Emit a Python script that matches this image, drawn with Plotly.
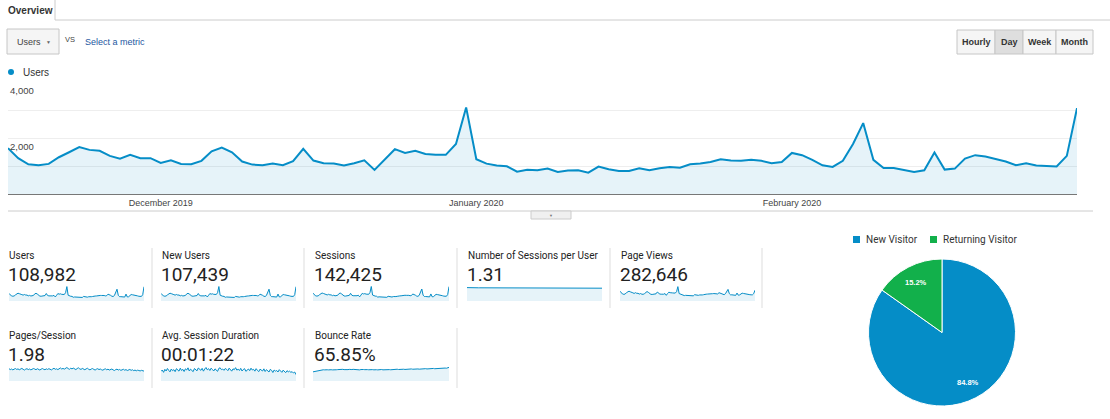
import math
import pandas as pd
import plotly.graph_objects as go

W, H = 1110, 419
BLUE = '#058DC7'
GREEN = '#12B04B'
FILL = 'rgba(5,141,199,0.1)'
UI_FONT = 'Liberation Sans, Arial, sans-serif'
CARD_FONT = 'Roboto, Arial, sans-serif'

# daily data, 16 Nov 2019 - 29 Feb 2020
dates = pd.date_range('2019-11-16', '2020-02-29', freq='D')
month_ticks = ['2019-12-01', '2020-01-01', '2020-02-01']
month_labels = ['December 2019', 'January 2020', 'February 2020']

users = [1650, 1290, 1070, 1040, 1085, 1325, 1505, 1690, 1590, 1555,
         1375, 1275, 1410, 1290, 1290, 1120, 1215, 1085, 1070, 1195,
         1540, 1675, 1505, 1170, 1060, 1035, 1095, 1035, 1180, 1625,
         1205, 1110, 1095, 1025, 1110, 1215, 870, 1230, 1615, 1480,
         1555, 1445, 1410, 1410, 1805, 3120, 1255, 1095, 1025, 1000,
         805, 870, 855, 915, 795, 845, 855, 770, 990, 890,
         830, 830, 930, 855, 930, 975, 950, 1070, 1095, 1155,
         1255, 1205, 1195, 1230, 1195, 1110, 1155, 1480, 1400, 1230,
         1035, 975, 1195, 1805, 2555, 1230, 940, 940, 880, 795,
         855, 1495, 880, 915, 1275, 1400, 1350, 1255, 1170, 1035,
         1110, 1025, 1000, 990, 1375, 3095]

new_users = [1630, 1270, 1055, 1025, 1070, 1305, 1485, 1665, 1570, 1535,
             1355, 1255, 1390, 1270, 1275, 1105, 1200, 1070, 1055, 1180,
             1520, 1650, 1485, 1155, 1045, 1020, 1080, 1020, 1165, 1600,
             1190, 1095, 1080, 1010, 1095, 1200, 860, 1215, 1590, 1460,
             1535, 1425, 1390, 1390, 1780, 3085, 1235, 1080, 1010, 985,
             795, 860, 845, 905, 785, 835, 845, 760, 975, 880,
             820, 820, 915, 845, 920, 960, 940, 1055, 1080, 1140,
             1235, 1190, 1180, 1215, 1180, 1095, 1140, 1460, 1380, 1215,
             1020, 960, 1180, 1780, 2520, 1215, 925, 930, 870, 785,
             845, 1475, 870, 905, 1260, 1380, 1330, 1240, 1155, 1020,
             1095, 1010, 985, 975, 1355, 3060]

sessions = [2180, 1700, 1410, 1370, 1430, 1740, 1980, 2210, 2090, 2040,
            1810, 1680, 1850, 1700, 1700, 1480, 1600, 1430, 1410, 1570,
            2020, 2200, 1980, 1540, 1400, 1360, 1440, 1360, 1550, 2130,
            1580, 1460, 1440, 1350, 1460, 1600, 1150, 1620, 2120, 1950,
            2040, 1900, 1850, 1850, 2370, 4010, 1650, 1440, 1350, 1320,
            1070, 1150, 1130, 1210, 1050, 1110, 1130, 1020, 1300, 1180,
            1100, 1100, 1230, 1130, 1230, 1290, 1260, 1410, 1440, 1520,
            1650, 1590, 1570, 1620, 1570, 1460, 1520, 1940, 1840, 1620,
            1370, 1290, 1570, 2360, 3320, 1620, 1240, 1240, 1160, 1050,
            1130, 1950, 1160, 1210, 1680, 1840, 1780, 1650, 1540, 1370,
            1460, 1350, 1320, 1310, 1800, 3990]

sessions_per_user = [1.34, 1.33, 1.32, 1.32, 1.32, 1.32, 1.32, 1.32, 1.32, 1.32,
                     1.32, 1.32, 1.32, 1.32, 1.32, 1.32, 1.32, 1.32, 1.32, 1.31,
                     1.31, 1.31, 1.32, 1.32, 1.32, 1.31, 1.31, 1.31, 1.31, 1.31,
                     1.31, 1.32, 1.31, 1.31, 1.31, 1.31, 1.31, 1.31, 1.31, 1.31,
                     1.31, 1.31, 1.31, 1.31, 1.31, 1.29, 1.31, 1.31, 1.31, 1.31,
                     1.31, 1.31, 1.31, 1.31, 1.31, 1.31, 1.31, 1.31, 1.31, 1.31,
                     1.31, 1.31, 1.31, 1.31, 1.31, 1.31, 1.30, 1.30, 1.30, 1.30,
                     1.30, 1.30, 1.30, 1.30, 1.30, 1.30, 1.30, 1.30, 1.30, 1.30,
                     1.30, 1.30, 1.30, 1.30, 1.29, 1.30, 1.30, 1.30, 1.30, 1.30,
                     1.30, 1.30, 1.30, 1.29, 1.29, 1.29, 1.29, 1.29, 1.29, 1.29,
                     1.29, 1.29, 1.29, 1.29, 1.29, 1.28]

page_views = [3900, 3200, 2750, 2650, 2750, 3300, 3600, 3900, 3650, 3550,
              3250, 3000, 3300, 3050, 3050, 2750, 2950, 2700, 2650, 2900,
              3500, 3750, 3450, 2850, 2650, 2600, 2750, 2600, 2850, 3550,
              2950, 2750, 2700, 2550, 2700, 2950, 2250, 2950, 3500, 3300,
              3400, 3200, 3150, 3150, 3700, 5700, 2950, 2700, 2550, 2500,
              2150, 2250, 2250, 2350, 2100, 2200, 2250, 2050, 2500, 2350,
              2250, 2250, 2400, 2300, 2400, 2500, 2450, 2700, 2750, 2850,
              3000, 2900, 2900, 2950, 2900, 2750, 2800, 3300, 3150, 2900,
              2600, 2500, 2900, 3700, 4600, 2950, 2450, 2450, 2350, 2150,
              2250, 3150, 2300, 2400, 2900, 3100, 3000, 2850, 2700, 2500,
              2650, 2500, 2450, 2450, 2950, 4300]

pages_per_session = [2.02, 1.96, 2.00, 1.94, 1.99, 2.03, 1.97, 2.01, 1.95, 1.99,
                     2.04, 1.98, 1.93, 1.99, 2.02, 1.96, 2.00, 1.94, 1.98, 2.03,
                     2.00, 1.95, 2.02, 1.97, 1.93, 1.99, 2.03, 1.98, 1.95, 2.01,
                     1.97, 2.02, 1.99, 1.94, 2.00, 2.05, 1.98, 2.01, 1.96, 2.03,
                     2.07, 2.00, 2.04, 1.99, 2.02, 2.10, 2.03, 1.98, 2.05, 2.01,
                     2.06, 2.00, 1.96, 2.03, 2.08, 2.01, 1.97, 2.04, 2.00, 1.95,
                     2.01, 2.05, 1.98, 1.94, 2.00, 2.03, 1.97, 1.93, 1.99, 2.02,
                     1.96, 2.00, 1.95, 1.92, 1.98, 2.01, 1.95, 1.99, 1.93, 1.97,
                     2.00, 1.94, 1.90, 1.96, 1.99, 1.93, 1.97, 1.91, 1.95, 1.98,
                     1.92, 1.96, 1.90, 1.94, 1.97, 1.91, 1.95, 1.89, 1.93, 1.88,
                     1.92, 1.90, 1.87, 1.91, 1.89, 1.86]

# seconds
avg_session_duration = [78, 86, 72, 90, 80, 95, 84, 75, 92, 82,
                        88, 76, 94, 85, 79, 97, 83, 90, 77, 93,
                        86, 99, 80, 91, 84, 76, 95, 88, 81, 98,
                        90, 84, 96, 79, 92, 101, 87, 94, 83, 97,
                        89, 80, 93, 86, 78, 96, 99, 88, 92, 84,
                        95, 90, 82, 97, 86, 79, 93, 88, 100, 85,
                        91, 83, 96, 80, 89, 94, 78, 87, 92, 82,
                        97, 86, 90, 79, 94, 84, 76, 91, 85, 80,
                        93, 77, 88, 82, 74, 90, 84, 71, 86, 79,
                        83, 74, 88, 80, 72, 85, 77, 70, 82, 75,
                        79, 72, 76, 68, 74, 58]

bounce_rate = [0.615, 0.620, 0.628, 0.635, 0.640, 0.645, 0.648, 0.650, 0.652, 0.650,
               0.655, 0.652, 0.650, 0.656, 0.653, 0.650, 0.655, 0.657, 0.652, 0.655,
               0.658, 0.654, 0.656, 0.660, 0.655, 0.652, 0.657, 0.655, 0.659, 0.654,
               0.656, 0.660, 0.657, 0.653, 0.658, 0.655, 0.650, 0.656, 0.660, 0.657,
               0.654, 0.658, 0.655, 0.652, 0.656, 0.662, 0.655, 0.651, 0.656, 0.653,
               0.650, 0.655, 0.652, 0.657, 0.651, 0.654, 0.656, 0.652, 0.658, 0.655,
               0.652, 0.656, 0.660, 0.655, 0.658, 0.662, 0.657, 0.660, 0.663, 0.659,
               0.662, 0.658, 0.661, 0.665, 0.660, 0.663, 0.667, 0.662, 0.665, 0.668,
               0.664, 0.667, 0.663, 0.666, 0.670, 0.665, 0.668, 0.672, 0.667, 0.670,
               0.674, 0.669, 0.672, 0.676, 0.671, 0.674, 0.678, 0.673, 0.676, 0.680,
               0.676, 0.679, 0.683, 0.680, 0.684, 0.695]

card_labels = ['Users', 'New Users', 'Sessions', 'Number of Sessions per User', 'Page Views',
               'Pages/Session', 'Avg. Session Duration', 'Bounce Rate']
card_values = ['108,982', '107,439', '142,425', '1.31', '282,646',
               '1.98', '00:01:22', '65.85%']
card_series = [users, new_users, sessions, sessions_per_user, page_views,
               pages_per_session, avg_session_duration, bounce_rate]
card_yrange = [[0, 3250], [0, 3200], [0, 4150], [0, 1.5], [0, 5950],
               [1.2, 2.2], [20, 110], [0.45, 0.72]]

visitor_types = ['New Visitor', 'Returning Visitor']
visitor_share = [84.8, 15.2]
intervals = ['Hourly', 'Day', 'Week', 'Month']

for s in card_series:
    assert len(s) == len(dates)


def px(x):
    return x / W


def py(y):
    return 1 - y / H


def note(text, x, y, size, color='#333', family=UI_FONT, xanchor='left', **kw):
    # text placed in page pixels
    return dict(text=text, x=px(x), y=py(y), xref='paper', yref='paper',
                xanchor=xanchor, yanchor='middle', showarrow=False,
                font=dict(family=family, size=size, color=color), **kw)


def pline(x0, y0, x1, y1, color='#ccc'):
    return dict(type='line', xref='paper', yref='paper', x0=px(x0), x1=px(x1),
                y0=py(y0), y1=py(y1), line=dict(color=color, width=1))


def prect(x0, y0, x1, y1, fill, border='#c6c6c6', kind='rect'):
    return dict(type=kind, xref='paper', yref='paper', x0=px(x0), x1=px(x1),
                y0=py(y1), y1=py(y0), fillcolor=fill,
                line=dict(color=border, width=1 if border else 0))


fig = go.Figure()

# main users chart
fig.add_trace(go.Scatter(x=dates, y=users, mode='lines', name='Users',
                         line=dict(color=BLUE, width=2),
                         fill='tozeroy', fillcolor=FILL, hoverinfo='skip'))

# scorecard sparklines
col_x = [7, 160, 313, 466, 619]
spark_x = [(9, 144), (161, 296), (313, 449), (467, 602), (620, 755)]
row_label_y = [255, 335]
row_value_y = [274, 354]
row_spark_y = [(286, 301), (366, 381)]

annotations = []
axes = {}
for i, series in enumerate(card_series):
    n = i + 2
    row, col = (0, i) if i < 5 else (1, i - 5)
    fig.add_trace(go.Scatter(x=dates, y=series, mode='lines',
                             line=dict(color=BLUE, width=1),
                             fill='tozeroy', fillcolor=FILL, hoverinfo='skip',
                             xaxis=f'x{n}', yaxis=f'y{n}'))
    sx0, sx1 = spark_x[col]
    sy0, sy1 = row_spark_y[row]
    axes[f'xaxis{n}'] = dict(domain=[px(sx0), px(sx1)], anchor=f'y{n}', visible=False,
                             range=[dates[0], dates[-1]], fixedrange=True)
    axes[f'yaxis{n}'] = dict(domain=[py(sy1), py(sy0)], anchor=f'x{n}', visible=False,
                             range=card_yrange[i], fixedrange=True)
    annotations.append(note(card_labels[i], col_x[col], row_label_y[row], 10,
                            color='#222', family=CARD_FONT))
    annotations.append(note(card_values[i], col_x[col] - 1, row_value_y[row], 19,
                            color='#222', family=CARD_FONT))

# pie of visitor type
pie_cx, pie_cy, pie_r = 942, 332.5, 72.5
fig.add_trace(go.Pie(labels=visitor_types, values=visitor_share, sort=False,
                     direction='clockwise', rotation=0,
                     marker=dict(colors=[BLUE, GREEN], line=dict(color='white', width=1)),
                     textinfo='none',
                     domain=dict(x=[px(pie_cx - pie_r - 1), px(pie_cx + pie_r + 1)],
                                 y=[py(pie_cy + pie_r + 1), py(pie_cy - pie_r - 1)]),
                     showlegend=False, hoverinfo='skip'))

# percentage labels out near the rim, at each slice's middle angle
start = 0.0
total = sum(visitor_share)
for share in visitor_share:
    mid = (start + share / 2) / total * 2 * math.pi
    start += share
    lx = pie_cx + 0.78 * pie_r * math.sin(mid)
    ly = pie_cy - 0.78 * pie_r * math.cos(mid)
    annotations.append(note(f'<b>{share / total:.1%}</b>', lx, ly, 7.5, color='white', xanchor='center'))

shapes = []
# overview tab
shapes.append(pline(55, 0, 55, 20))
shapes.append(pline(55, 20, W, 20))
annotations.append(note('<b>Overview</b>', 6, 10, 10))

# metric dropdown
shapes.append(prect(7, 29, 59, 54, '#f5f5f5'))
annotations.append(note('Users', 15, 42, 9, color='#444'))
annotations.append(note('▼', 48, 42, 5, color='#666', xanchor='center'))
annotations.append(note('VS', 63, 40, 7.5, color='#444'))
annotations.append(note('Select a metric', 83, 42, 9, color='#23579f'))

# interval buttons
btn_edges = [957, 995, 1023, 1056, 1093]
for i, name in enumerate(intervals):
    x0, x1 = btn_edges[i], btn_edges[i + 1]
    shapes.append(prect(x0, 30, x1, 54, '#dedede' if name == 'Day' else '#f5f5f5'))
    annotations.append(note(f'<b>{name}</b>', (x0 + x1) / 2, 42, 9, xanchor='center'))

# legend of main chart
shapes.append(prect(8, 69, 14, 75, BLUE, border=None, kind='circle'))
annotations.append(note('Users', 21, 72, 10))

# y labels sit just under their gridlines
for v, t in [(2000, '2,000'), (4000, '4,000')]:
    annotations.append(dict(text=t, x=px(8), y=v, xref='paper', yref='y', xanchor='left', yanchor='top',
                            showarrow=False, font=dict(family=UI_FONT, size=9.5, color='#444')))

# divider below chart with the collapse button
shapes.append(pline(8, 211, 1093, 211))
shapes.append(prect(531, 211, 571, 219, '#f0f0f0', border='#ccc'))
annotations.append(note('▼', 551, 215, 4, color='#777', xanchor='center'))

# scorecard separators
for x in [152, 304, 457, 610, 762]:
    shapes.append(pline(x, 248, x, 308, color='#ddd'))
for x in [152, 304, 457]:
    shapes.append(pline(x, 328, x, 388, color='#ddd'))

# pie legend
for (x0, label), color in zip([(853, visitor_types[0]), (930, visitor_types[1])], [BLUE, GREEN]):
    shapes.append(prect(x0, 236, x0 + 7, 243, color, border=None))
    annotations.append(note(label, x0 + 11, 239.5, 10, family=CARD_FONT))

fig.update_layout(
    width=W, height=H,
    margin=dict(t=0, b=0, l=0, r=0),
    paper_bgcolor='white', plot_bgcolor='white',
    showlegend=False,
    xaxis=dict(domain=[px(8), px(1077)], range=[dates[0], dates[-1]],
               tickvals=month_ticks, ticktext=month_labels, ticks='',
               tickfont=dict(family=UI_FONT, size=9, color='#444'),
               showgrid=False, showline=True, linecolor='#777', linewidth=1,
               zeroline=False, fixedrange=True),
    yaxis=dict(domain=[py(194), py(83)], range=[0, 4000],
               tickvals=[1000, 2000, 3000, 4000], showticklabels=False,
               gridcolor='#eeeeee', gridwidth=1, zeroline=False, fixedrange=True),
    shapes=shapes,
    annotations=annotations,
)
fig.update_layout(**axes)

# drop the default body margin so page pixels match the figure
fig.write_html('out.html', config={'displayModeBar': False},
               post_script="document.body.style.margin='0';")
